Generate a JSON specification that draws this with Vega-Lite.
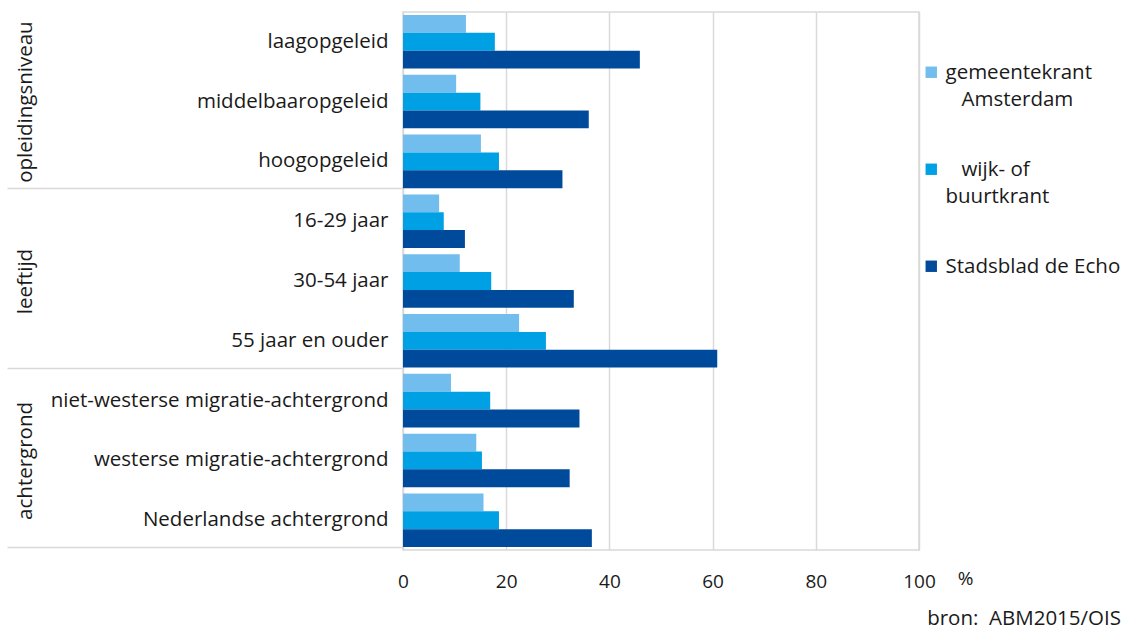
{
  "$schema": "https://vega.github.io/schema/vega-lite/v6.json",
  "width": 516,
  "height": 538,
  "autosize": "none",
  "padding": {"left": 403, "top": 12, "right": 208, "bottom": 80},
  "background": "white",
  "config": {
    "font": "Open Sans",
    "view": {"stroke": "#d9d9d9", "strokeWidth": 1.5},
    "axis": {"labelColor": "#1a1a1a", "titleColor": "#1a1a1a"},
    "legend": {"labelColor": "#1a1a1a"}
  },
  "title": {"text": "bron:\u00a0 ABM2015/OIS", "orient": "bottom", "anchor": "end", "frame": "bounds", "fontSize": 20.5, "fontWeight": "normal", "color": "#1a1a1a", "offset": 18},
  "data": {"values": [
    {"groep": "opleidingsniveau", "categorie": "laagopgeleid", "krant": "gemeentekrant Amsterdam", "pct": 12.2},
    {"groep": "opleidingsniveau", "categorie": "laagopgeleid", "krant": "wijk- of buurtkrant", "pct": 17.8},
    {"groep": "opleidingsniveau", "categorie": "laagopgeleid", "krant": "Stadsblad de Echo", "pct": 45.9},
    {"groep": "opleidingsniveau", "categorie": "middelbaaropgeleid", "krant": "gemeentekrant Amsterdam", "pct": 10.3},
    {"groep": "opleidingsniveau", "categorie": "middelbaaropgeleid", "krant": "wijk- of buurtkrant", "pct": 15.0},
    {"groep": "opleidingsniveau", "categorie": "middelbaaropgeleid", "krant": "Stadsblad de Echo", "pct": 36.0},
    {"groep": "opleidingsniveau", "categorie": "hoogopgeleid", "krant": "gemeentekrant Amsterdam", "pct": 15.1},
    {"groep": "opleidingsniveau", "categorie": "hoogopgeleid", "krant": "wijk- of buurtkrant", "pct": 18.6},
    {"groep": "opleidingsniveau", "categorie": "hoogopgeleid", "krant": "Stadsblad de Echo", "pct": 30.9},
    {"groep": "leeftijd", "categorie": "16-29 jaar", "krant": "gemeentekrant Amsterdam", "pct": 7.0},
    {"groep": "leeftijd", "categorie": "16-29 jaar", "krant": "wijk- of buurtkrant", "pct": 7.9},
    {"groep": "leeftijd", "categorie": "16-29 jaar", "krant": "Stadsblad de Echo", "pct": 12.0},
    {"groep": "leeftijd", "categorie": "30-54 jaar", "krant": "gemeentekrant Amsterdam", "pct": 11.0},
    {"groep": "leeftijd", "categorie": "30-54 jaar", "krant": "wijk- of buurtkrant", "pct": 17.1},
    {"groep": "leeftijd", "categorie": "30-54 jaar", "krant": "Stadsblad de Echo", "pct": 33.1},
    {"groep": "leeftijd", "categorie": "55 jaar en ouder", "krant": "gemeentekrant Amsterdam", "pct": 22.5},
    {"groep": "leeftijd", "categorie": "55 jaar en ouder", "krant": "wijk- of buurtkrant", "pct": 27.7},
    {"groep": "leeftijd", "categorie": "55 jaar en ouder", "krant": "Stadsblad de Echo", "pct": 60.9},
    {"groep": "achtergrond", "categorie": "niet-westerse migratie-achtergrond", "krant": "gemeentekrant Amsterdam", "pct": 9.3},
    {"groep": "achtergrond", "categorie": "niet-westerse migratie-achtergrond", "krant": "wijk- of buurtkrant", "pct": 16.9},
    {"groep": "achtergrond", "categorie": "niet-westerse migratie-achtergrond", "krant": "Stadsblad de Echo", "pct": 34.2},
    {"groep": "achtergrond", "categorie": "westerse migratie-achtergrond", "krant": "gemeentekrant Amsterdam", "pct": 14.2},
    {"groep": "achtergrond", "categorie": "westerse migratie-achtergrond", "krant": "wijk- of buurtkrant", "pct": 15.3},
    {"groep": "achtergrond", "categorie": "westerse migratie-achtergrond", "krant": "Stadsblad de Echo", "pct": 32.3},
    {"groep": "achtergrond", "categorie": "Nederlandse achtergrond", "krant": "gemeentekrant Amsterdam", "pct": 15.6},
    {"groep": "achtergrond", "categorie": "Nederlandse achtergrond", "krant": "wijk- of buurtkrant", "pct": 18.6},
    {"groep": "achtergrond", "categorie": "Nederlandse achtergrond", "krant": "Stadsblad de Echo", "pct": 36.6}
  ]},
  "layer": [
    {
      "mark": {"type": "bar"},
      "encoding": {
        "y": {
          "field": "categorie", "type": "nominal",
          "sort": ["laagopgeleid", "middelbaaropgeleid", "hoogopgeleid", "16-29 jaar", "30-54 jaar", "55 jaar en ouder", "niet-westerse migratie-achtergrond", "westerse migratie-achtergrond", "Nederlandse achtergrond"],
          "scale": {"paddingInner": 0.105, "paddingOuter": 0.05},
          "axis": {"title": null, "ticks": false, "tickSize": 0, "domain": false, "labelPadding": 15, "labelFontSize": 20.5, "labelLimit": 400}
        },
        "yOffset": {
          "field": "krant", "type": "nominal",
          "sort": ["gemeentekrant Amsterdam", "wijk- of buurtkrant", "Stadsblad de Echo"],
          "scale": {"paddingInner": 0, "paddingOuter": 0}
        },
        "x": {
          "field": "pct", "type": "quantitative",
          "scale": {"domain": [0, 100], "nice": false},
          "axis": {"title": "%", "grid": true, "gridColor": "#d9d9d9", "gridWidth": 1.5, "ticks": false, "domain": false, "values": [0, 20, 40, 60, 80, 100], "labelFlush": false, "labelPadding": 22, "labelFontSize": 19, "titleX": 562, "titleY": 34, "titleAngle": 0, "titleAlign": "center", "titleBaseline": "alphabetic", "titleFontWeight": "normal", "titleFontSize": 19}
        },
        "color": {
          "field": "krant", "type": "nominal",
          "sort": ["gemeentekrant Amsterdam", "wijk- of buurtkrant", "Stadsblad de Echo"],
          "scale": {"domain": ["gemeentekrant Amsterdam", "wijk- of buurtkrant", "Stadsblad de Echo"], "range": ["#71bdee", "#00a1e4", "#004a9c"]},
          "legend": {
            "title": null, "orient": "none", "legendX": 518, "legendY": 50,
            "symbolType": "square", "symbolSize": 130, "symbolStrokeWidth": 0,
            "labelFontSize": 20.5, "labelOffset": 4, "rowPadding": 48, "labelLimit": 300,
            "labelBaseline": "alphabetic",
            "labelExpr": "datum.label == 'gemeentekrant Amsterdam' ? ['gemeentekrant', '\u200b\u00a0\u00a0\u00a0Amsterdam'] : datum.label == 'wijk- of buurtkrant' ? ['\u200b\u00a0\u00a0\u00a0wijk- of', 'buurtkrant'] : datum.label",
            "encode": {"labels": {"update": {"dy": {"value": 7}, "lineHeight": {"value": 27}}}}
          }
        }
      }
    },
    {
      "mark": {"type": "bar", "opacity": 0},
      "encoding": {
        "y": {
          "field": "categorie", "type": "nominal",
          "sort": ["laagopgeleid", "middelbaaropgeleid", "hoogopgeleid", "16-29 jaar", "30-54 jaar", "55 jaar en ouder", "niet-westerse migratie-achtergrond", "westerse migratie-achtergrond", "Nederlandse achtergrond"],
          "axis": {
            "orient": "left", "title": null, "domain": false, "grid": false,
            "tickBand": "extent", "tickSize": 396, "tickColor": "#d9d9d9", "tickWidth": 1.5, "tickOffset": 3,
            "tickOpacity": {"condition": {"test": "datum.index == 1 || datum.value == 'hoogopgeleid' || datum.value == '55 jaar en ouder' || datum.value == 'Nederlandse achtergrond'", "value": 1}, "value": 0},
            "labelExpr": "datum.value == 'middelbaaropgeleid' ? 'opleidingsniveau' : datum.value == '30-54 jaar' ? 'leeftijd' : datum.value == 'westerse migratie-achtergrond' ? 'achtergrond' : ''",
            "labelAngle": -90, "labelPadding": -28, "labelFontSize": 20.5
          }
        },
        "x": {"field": "pct", "type": "quantitative"}
      }
    }
  ],
  "resolve": {"axis": {"y": "independent"}}
}
